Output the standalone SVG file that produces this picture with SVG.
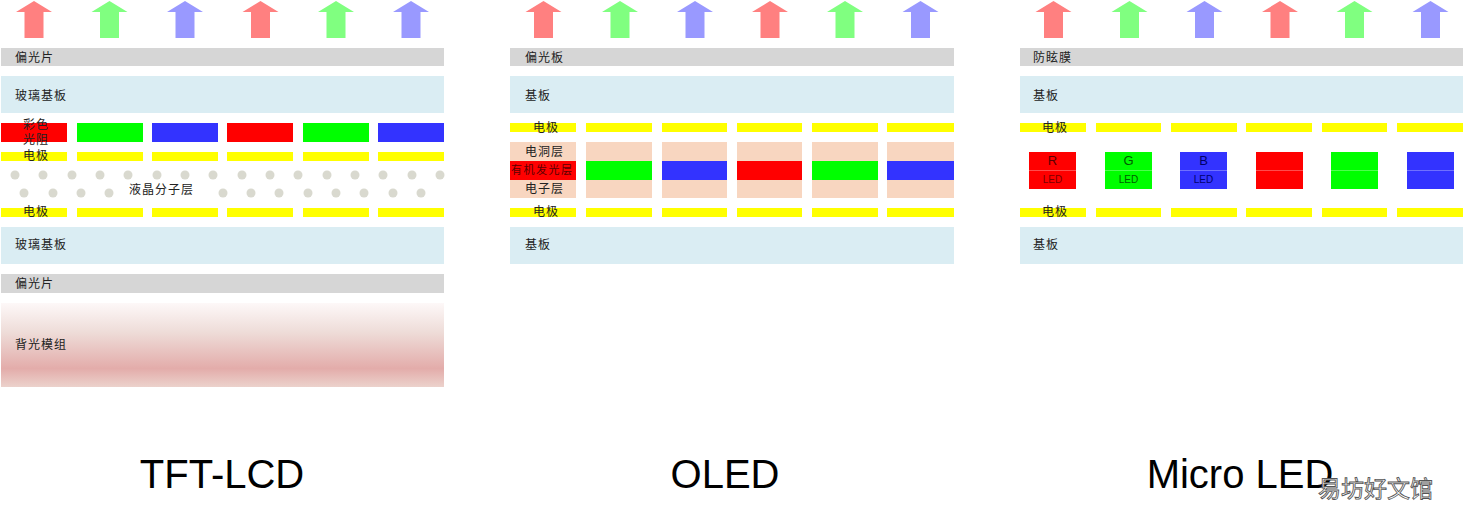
<svg xmlns="http://www.w3.org/2000/svg" xmlns:xlink="http://www.w3.org/1999/xlink" width="1464" height="518" viewBox="0 0 1464 518">
<style>
.pol{fill:#d6d6d6}
.sub{fill:#daedf3}
.ele{fill:#ffff00}
.org{fill:#f8d6c0}
.r{fill:#ff0000}
.g{fill:#00ff00}
.b{fill:#3333ff}
.ar{fill:#ff8080}
.ag{fill:#80ff80}
.ab{fill:#9999ff}
.dot{fill:#d9d9cf}
.cn{font-family:"Noto Sans CJK SC","Noto Sans",sans-serif;font-size:12px;fill:#222;letter-spacing:1px}
.ttl{font-family:"Liberation Sans",Arial,sans-serif;font-size:40px;fill:#000}
.led{font-family:"Liberation Sans",Arial,sans-serif;fill:#111;text-anchor:middle}
.wm{font-family:"Noto Sans CJK SC",sans-serif;font-size:23px;fill:#fff;stroke:#555;stroke-width:0.9}
</style>
<defs>
<path id="arrow" d="M0,1 L18,12 L9.5,12 L9.5,38 L-9.5,38 L-9.5,12 L-18,12 Z"/>
<linearGradient id="bl" x1="0" y1="0" x2="0" y2="1">
<stop offset="0" stop-color="#fdf8f8"/>
<stop offset="0.35" stop-color="#eedcd8"/>
<stop offset="0.78" stop-color="#e3acaa"/>
<stop offset="1" stop-color="#ecd2cc"/>
</linearGradient>
</defs>

<g id="tft-lcd">
<g id="lcd-arrows">
<use href="#arrow" x="34" class="ar"/>
<use href="#arrow" x="109.5" class="ag"/>
<use href="#arrow" x="185" class="ab"/>
<use href="#arrow" x="260.5" class="ar"/>
<use href="#arrow" x="336" class="ag"/>
<use href="#arrow" x="411" class="ab"/>
</g>
<g id="lcd-polarizer-top"><rect x="1" y="48" width="443" height="18" class="pol"/><text x="15" y="62" class="cn">偏光片</text></g>
<g id="lcd-glass-top"><rect x="1" y="76" width="443" height="37" class="sub"/><text x="15" y="100" class="cn">玻璃基板</text></g>
<g id="lcd-color-filter">
<rect x="1" y="123" width="66" height="19" class="r"/>
<rect x="77" y="123" width="66" height="19" class="g"/>
<rect x="152" y="123" width="66" height="19" class="b"/>
<rect x="227" y="123" width="66" height="19" class="r"/>
<rect x="303" y="123" width="66" height="19" class="g"/>
<rect x="378" y="123" width="66" height="19" class="b"/>
<text x="23" y="129" class="cn">彩色</text>
<text x="23" y="144" class="cn">光阻</text>
</g>
<g id="lcd-electrode-top">
<rect x="1" y="152" width="66" height="9" class="ele"/>
<rect x="77" y="152" width="66" height="9" class="ele"/>
<rect x="152" y="152" width="66" height="9" class="ele"/>
<rect x="227" y="152" width="66" height="9" class="ele"/>
<rect x="303" y="152" width="66" height="9" class="ele"/>
<rect x="378" y="152" width="66" height="9" class="ele"/>
<text x="23" y="160" class="cn">电极</text>
</g>
<g id="lcd-liquid-crystal">
<circle cx="15" cy="175" r="4.5" class="dot"/><circle cx="43" cy="175" r="4.5" class="dot"/><circle cx="72" cy="175" r="4.5" class="dot"/><circle cx="100" cy="175" r="4.5" class="dot"/><circle cx="128" cy="175" r="4.5" class="dot"/><circle cx="157" cy="175" r="4.5" class="dot"/><circle cx="185" cy="175" r="4.5" class="dot"/><circle cx="213" cy="175" r="4.5" class="dot"/><circle cx="242" cy="175" r="4.5" class="dot"/><circle cx="270" cy="175" r="4.5" class="dot"/><circle cx="298" cy="175" r="4.5" class="dot"/><circle cx="327" cy="175" r="4.5" class="dot"/><circle cx="355" cy="175" r="4.5" class="dot"/><circle cx="383" cy="175" r="4.5" class="dot"/><circle cx="412" cy="175" r="4.5" class="dot"/><circle cx="440" cy="175" r="4.5" class="dot"/>
<circle cx="24" cy="193" r="4.5" class="dot"/><circle cx="53" cy="193" r="4.5" class="dot"/><circle cx="81" cy="193" r="4.5" class="dot"/><circle cx="109" cy="193" r="4.5" class="dot"/><circle cx="223" cy="193" r="4.5" class="dot"/><circle cx="251" cy="193" r="4.5" class="dot"/><circle cx="279" cy="193" r="4.5" class="dot"/><circle cx="308" cy="193" r="4.5" class="dot"/><circle cx="336" cy="193" r="4.5" class="dot"/><circle cx="364" cy="193" r="4.5" class="dot"/><circle cx="393" cy="193" r="4.5" class="dot"/><circle cx="421" cy="193" r="4.5" class="dot"/>
<text x="129" y="194" class="cn">液晶分子层</text>
</g>
<g id="lcd-electrode-bottom">
<rect x="1" y="208" width="66" height="9" class="ele"/>
<rect x="77" y="208" width="66" height="9" class="ele"/>
<rect x="152" y="208" width="66" height="9" class="ele"/>
<rect x="227" y="208" width="66" height="9" class="ele"/>
<rect x="303" y="208" width="66" height="9" class="ele"/>
<rect x="378" y="208" width="66" height="9" class="ele"/>
<text x="23" y="216" class="cn">电极</text>
</g>
<g id="lcd-glass-bottom"><rect x="1" y="227" width="443" height="37" class="sub"/><text x="15" y="249" class="cn">玻璃基板</text></g>
<g id="lcd-polarizer-bottom"><rect x="1" y="274" width="443" height="19" class="pol"/><text x="15" y="288" class="cn">偏光片</text></g>
<g id="lcd-backlight"><rect x="1" y="303" width="443" height="84" fill="url(#bl)"/><text x="15" y="349" class="cn">背光模组</text></g>
<text x="222" y="488" class="ttl" text-anchor="middle">TFT-LCD</text>
</g>

<g id="oled">
<g id="oled-arrows">
<use href="#arrow" x="543.5" class="ar"/>
<use href="#arrow" x="620" class="ag"/>
<use href="#arrow" x="695" class="ab"/>
<use href="#arrow" x="770" class="ar"/>
<use href="#arrow" x="845" class="ag"/>
<use href="#arrow" x="920.5" class="ab"/>
</g>
<g id="oled-polarizer"><rect x="510" y="48" width="444" height="18" class="pol"/><text x="525" y="62" class="cn">偏光板</text></g>
<g id="oled-substrate-top"><rect x="510" y="76" width="444" height="37" class="sub"/><text x="525" y="100" class="cn">基板</text></g>
<g id="oled-electrode-top">
<rect x="510" y="123" width="66" height="9" class="ele"/>
<rect x="586" y="123" width="66" height="9" class="ele"/>
<rect x="662" y="123" width="65" height="9" class="ele"/>
<rect x="737" y="123" width="65" height="9" class="ele"/>
<rect x="812" y="123" width="66" height="9" class="ele"/>
<rect x="887" y="123" width="67" height="9" class="ele"/>
<text x="533" y="132" class="cn">电极</text>
</g>
<g id="oled-stack">
<rect x="510" y="142" width="66" height="56" class="org"/>
<rect x="586" y="142" width="66" height="56" class="org"/>
<rect x="662" y="142" width="65" height="56" class="org"/>
<rect x="737" y="142" width="65" height="56" class="org"/>
<rect x="812" y="142" width="66" height="56" class="org"/>
<rect x="887" y="142" width="67" height="56" class="org"/>
<rect x="510" y="161" width="66" height="19" class="r"/>
<rect x="586" y="161" width="66" height="19" class="g"/>
<rect x="662" y="161" width="65" height="19" class="b"/>
<rect x="737" y="161" width="65" height="19" class="r"/>
<rect x="812" y="161" width="66" height="19" class="g"/>
<rect x="887" y="161" width="67" height="19" class="b"/>
<text x="525" y="156" class="cn">电洞层</text>
<text x="511" y="174" class="cn" style="font-size:11px;letter-spacing:1.5px;fill:#5a0000">有机发光层</text>
<text x="525" y="193" class="cn">电子层</text>
</g>
<g id="oled-electrode-bottom">
<rect x="510" y="208" width="66" height="9" class="ele"/>
<rect x="586" y="208" width="66" height="9" class="ele"/>
<rect x="662" y="208" width="65" height="9" class="ele"/>
<rect x="737" y="208" width="65" height="9" class="ele"/>
<rect x="812" y="208" width="66" height="9" class="ele"/>
<rect x="887" y="208" width="67" height="9" class="ele"/>
<text x="533" y="216" class="cn">电极</text>
</g>
<g id="oled-substrate-bottom"><rect x="510" y="227" width="444" height="37" class="sub"/><text x="525" y="249" class="cn">基板</text></g>
<text x="725" y="488" class="ttl" text-anchor="middle">OLED</text>
</g>

<g id="micro-led">
<g id="mled-arrows">
<use href="#arrow" x="1053.5" class="ar"/>
<use href="#arrow" x="1129.5" class="ag"/>
<use href="#arrow" x="1204.5" class="ab"/>
<use href="#arrow" x="1280" class="ar"/>
<use href="#arrow" x="1354.5" class="ag"/>
<use href="#arrow" x="1430.5" class="ab"/>
</g>
<g id="mled-antiglare"><rect x="1020" y="48" width="443" height="18" class="pol"/><text x="1033" y="62" class="cn">防眩膜</text></g>
<g id="mled-substrate-top"><rect x="1020" y="76" width="443" height="37" class="sub"/><text x="1033" y="100" class="cn">基板</text></g>
<g id="mled-electrode-top">
<rect x="1020" y="123" width="66" height="9" class="ele"/>
<rect x="1096" y="123" width="65" height="9" class="ele"/>
<rect x="1171" y="123" width="66" height="9" class="ele"/>
<rect x="1246" y="123" width="66" height="9" class="ele"/>
<rect x="1322" y="123" width="65" height="9" class="ele"/>
<rect x="1397" y="123" width="66" height="9" class="ele"/>
<text x="1042" y="132" class="cn">电极</text>
</g>
<g id="mled-leds">
<rect x="1029" y="152" width="47" height="37" class="r"/>
<rect x="1105" y="152" width="47" height="37" class="g"/>
<rect x="1180" y="152" width="47" height="37" class="b"/>
<rect x="1256" y="152" width="47" height="37" class="r"/>
<rect x="1331" y="152" width="47" height="37" class="g"/>
<rect x="1407" y="152" width="47" height="37" class="b"/>
<g stroke="#ffffff" stroke-opacity="0.3" stroke-width="1">
<line x1="1029" y1="170.5" x2="1076" y2="170.5"/><line x1="1105" y1="170.5" x2="1152" y2="170.5"/><line x1="1180" y1="170.5" x2="1227" y2="170.5"/><line x1="1256" y1="170.5" x2="1303" y2="170.5"/><line x1="1331" y1="170.5" x2="1378" y2="170.5"/><line x1="1407" y1="170.5" x2="1454" y2="170.5"/>
</g>
<text x="1052.5" y="165" class="led" style="font-size:13px;fill:#5a0000">R</text>
<text x="1052.5" y="183" class="led" style="font-size:10px;fill:#7a0000">LED</text>
<text x="1128.5" y="165" class="led" style="font-size:13px;fill:#005a00">G</text>
<text x="1128.5" y="183" class="led" style="font-size:10px;fill:#006000">LED</text>
<text x="1203.5" y="165" class="led" style="font-size:13px;fill:#000066">B</text>
<text x="1203.5" y="183" class="led" style="font-size:10px;fill:#000070">LED</text>
</g>
<g id="mled-electrode-bottom">
<rect x="1020" y="208" width="66" height="9" class="ele"/>
<rect x="1096" y="208" width="65" height="9" class="ele"/>
<rect x="1171" y="208" width="66" height="9" class="ele"/>
<rect x="1246" y="208" width="66" height="9" class="ele"/>
<rect x="1322" y="208" width="65" height="9" class="ele"/>
<rect x="1397" y="208" width="66" height="9" class="ele"/>
<text x="1042" y="216" class="cn">电极</text>
</g>
<g id="mled-substrate-bottom"><rect x="1020" y="227" width="443" height="37" class="sub"/><text x="1033" y="249" class="cn">基板</text></g>
<text x="1240" y="488" class="ttl" text-anchor="middle">Micro LED</text>
</g>
<text x="1318" y="497" class="wm">易坊好文馆</text>
</svg>
